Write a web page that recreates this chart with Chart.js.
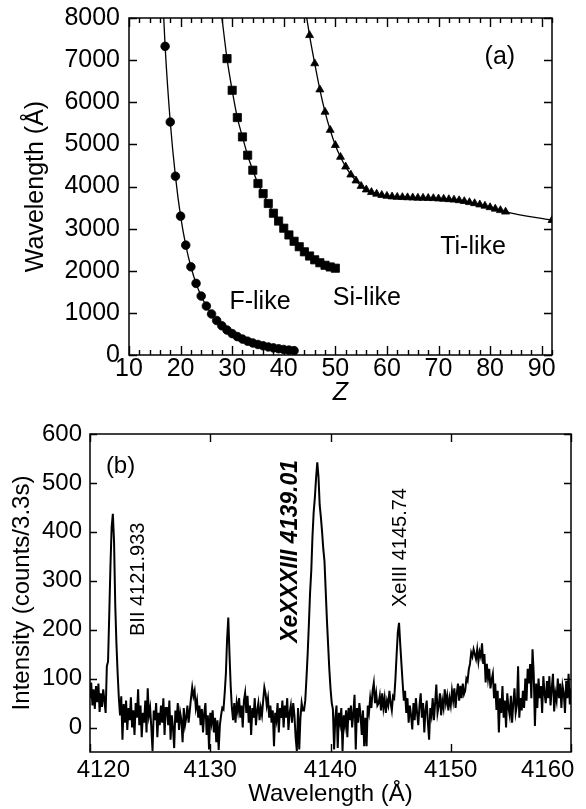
<!DOCTYPE html>
<html>
<head>
<meta charset="utf-8">
<script src="https://cdn.jsdelivr.net/npm/chart.js@4/dist/chart.umd.min.js"></script>
<style>
  html, body { margin: 0; padding: 0; background: #fff; }
  #wrap { position: relative; width: 586px; height: 809px; }
  #panelA { position: absolute; left: 0; top: 0; }
  #panelB { position: absolute; left: 0; top: 410px; }
</style>
</head>
<body>
<div id="wrap">
  <canvas id="panelA" width="586" height="410"></canvas>
  <canvas id="panelB" width="586" height="399"></canvas>
</div>
<script>
// ---------- (a) M1 line wavelengths along three isoelectronic sequences ----------
// The first entry of each sequence continues the curve above the plotted range (no marker).
const fLikeZ  = [16, 17, 18, 19, 20, 21, 22, 23, 24, 25, 26, 27, 28, 29, 30, 31, 32, 33, 34, 35, 36, 37, 38, 39, 40, 41, 42];
const fLikeWl = [9913, 7327, 5532, 4245, 3296, 2608, 2094, 1700, 1399, 1162, 975, 819, 694, 592, 508, 437, 378, 328, 285, 249, 218, 191, 168, 148, 131, 116, 103];

const siLikeZ  = [28, 29, 30, 31, 32, 33, 34, 35, 36, 37, 38, 39, 40, 41, 42, 43, 44, 45, 46, 47, 48, 49, 50];
const siLikeWl = [8024, 7036, 6284, 5637, 5177, 4743, 4387, 4071, 3831, 3597, 3366, 3180, 3010, 2850, 2700, 2570, 2450, 2350, 2260, 2190, 2130, 2090, 2060];

const tiLikeZ  = [44, 45, 46, 47, 48, 49, 50, 51, 52, 53, 54, 55, 56, 57, 58, 59, 60, 61, 62, 63, 64,
                  65, 66, 67, 68, 69, 70, 71, 72, 73, 74, 75, 76, 77, 78, 79, 80, 81, 82, 83, 92];
const tiLikeWl = [8350, 7590, 6920, 6300, 5770, 5340, 4980, 4700, 4470, 4280, 4139, 4010, 3925, 3865, 3825, 3795, 3775, 3760, 3750, 3745, 3740,
                  3735, 3730, 3728, 3725, 3720, 3712, 3705, 3695, 3685, 3670, 3650, 3625, 3600, 3570, 3540, 3505, 3470, 3435, 3400, 3200];

const zTicks  = [10, 20, 30, 40, 50, 60, 70, 80, 90];
const wlTicks = [0, 1000, 2000, 3000, 4000, 5000, 6000, 7000, 8000];

// ---------- (b) spectrum around the Xe XXXIII line ----------
const specStart = 4120.0;   // Å, first channel
const specStep  = 0.1;      // Å per channel
const intensity = [
  60, 92, 45, 78, 38, 85, 52, 90, 32, 70,
  42, 78, 55, 30, 125, 135, 230, 330, 410, 437,
  380, 250, 170, 110, 60, 25, 64, -25, 48, 10,
  55, -5, 40, 15, 62, 0, 35, -15, 50, 20,
  78, 5, 45, -20, 30, 10, 55, -10, 80, 25,
  40, 0, -48, 35, 15, 50, -20, 30, 5, 45,
  10, 60, -15, 40, 40, 5, 55, -25, 25, 0,
  -42, 35, 10, 50, -5, 30, 15, -30, 40, 5,
  20, 45, 10, 35, 60, 82, 64, 75, 40, 55,
  20, 45, 5, 38, -10, 30, 50, -15, 25, -45,
  30, 10, 35, -10, 20, -30, 15, -46, 5, 25,
  40, 37, 70, 110, 180, 225, 150, 85, 40, 15,
  50, 10, 50, 33, 60, 20, 45, 0, 55, 71,
  30, 65, 10, 45, -15, 40, 20, 60, 5, 35,
  50, 15, 40, 25, 55, 82, 70, 45, 60, 20,
  45, 10, 35, -38, 30, 15, 50, -10, 40, 20,
  55, 0, 45, 20, 60, -5, 30, 45, 10, 50,
  25, -20, -48, 40, -45, 20, 50, 35, 35, 55,
  100, 150, 210, 275, 320, 390, 440, 470, 510, 542,
  513, 455, 430, 400, 365, 340, 280, 221, 170, 120,
  80, 51, 37, -45, 20, 45, -42, 30, 10, 40,
  -48, 25, 5, 35, -20, 40, 15, 45, 0, 30,
  67, -45, 40, 10, 50, 25, -15, 35, -38, 20,
  -38, 45, 30, 60, 40, 75, 91, 50, 70, 45,
  50, 65, 35, 70, 40, 60, 30, 55, 45, 75,
  50, 35, 64, 60, 100, 150, 195, 214, 170, 130,
  91, 55, 75, 30, 60, 10, 45, 25, -4, 50,
  15, 60, 30, 5, 45, 70, 20, 50, -10, 35,
  55, 10, -25, 40, 25, 60, 15, 50, 88, 30,
  45, 70, 25, 55, 40, 78, 50, 65, 35, 60,
  45, 75, 55, 80, 40, 70, 90, 55, 85, 60,
  90, 68, 75, 100, 95, 119, 130, 153, 145, 160,
  150, 140, 160, 135, 155, 145, 172, 130, 150, 92,
  130, 100, 120, 80, 98, 110, 60, 90, 36, 75,
  -10, 60, 30, 85, 20, 55, 0, 70, 40, 25,
  65, 10, 50, 80, 30, 45, 125, 20, 60, 35,
  75, 40, 100, 55, 120, 90, 130, 60, 160, 110,
  3, 90, 40, 100, 60, 85, 30, 105, 70, 50,
  95, 60, 105, 45, 80, 110, 33, 70, 55, 100,
  60, 90, 40, 85, 70, 30, 95, 60, 110, 47,
  80
];
const lambdaTicks = [4120, 4130, 4140, 4150, 4160];
const countTicks  = [0, 100, 200, 300, 400, 500, 600];

// ---------- shared helpers ----------
const FONT = 'Liberation Sans, Arial, Helvetica, sans-serif';

function pairs(xs, ys) { return xs.map((x, i) => ({ x, y: ys[i] })); }

function fixedSize(size) {
  return scale => {
    if (scale.isHorizontal()) scale.height = size; else scale.width = size;
    scale.paddingLeft = scale.paddingRight = scale.paddingTop = scale.paddingBottom = 0;
  };
}
function useTicks(values) {
  return scale => { scale.ticks = values.map(v => ({ value: v })); };
}

// box frame with inward ticks on all four sides
function frameWithTicks(cfg) {
  return {
    id: 'frameTicks',
    afterDraw(chart) {
      const { ctx, chartArea: a } = chart;
      const xs = chart.scales.x, ys = chart.scales.y;
      ctx.save();
      ctx.strokeStyle = '#000';
      ctx.lineWidth = cfg.tickWidth;
      ctx.beginPath();
      const major = cfg.xMajor;
      if (cfg.xMinorStep) {
        for (let v = cfg.xFrom; v <= cfg.xTo + 1e-9; v += cfg.xMinorStep) {
          if (major.some(m => Math.abs(m - v) < 1e-6)) continue;
          const px = Math.round(xs.getPixelForValue(v)) + 0.5;
          ctx.moveTo(px, a.bottom); ctx.lineTo(px, a.bottom - cfg.xMinorLen);
          ctx.moveTo(px, a.top);    ctx.lineTo(px, a.top + cfg.xMinorLen);
        }
      }
      for (const v of major) {
        const px = Math.round(xs.getPixelForValue(v)) + 0.5;
        ctx.moveTo(px, a.bottom); ctx.lineTo(px, a.bottom - cfg.xMajorLen);
        ctx.moveTo(px, a.top);    ctx.lineTo(px, a.top + cfg.xMajorLen);
      }
      for (const v of cfg.yMajor) {
        const py = Math.round(ys.getPixelForValue(v)) + 0.5;
        ctx.moveTo(a.left, py);  ctx.lineTo(a.left + cfg.yLen, py);
        ctx.moveTo(a.right, py); ctx.lineTo(a.right - cfg.yLen, py);
      }
      ctx.stroke();
      ctx.lineWidth = cfg.frameWidth;
      ctx.strokeRect(a.left, a.top, a.right - a.left, a.bottom - a.top);
      ctx.restore();
    }
  };
}

// free text placed in data coordinates
function textNotes(items) {
  return {
    id: 'notes',
    afterDatasetsDraw(chart) {
      const { ctx } = chart;
      const xs = chart.scales.x, ys = chart.scales.y;
      ctx.save();
      ctx.fillStyle = '#000';
      ctx.textAlign = 'center';
      ctx.textBaseline = 'middle';
      for (const n of items) {
        ctx.save();
        ctx.translate(xs.getPixelForValue(n.x), ys.getPixelForValue(n.y));
        if (n.rotate) ctx.rotate(n.rotate);
        ctx.font = n.font;
        ctx.fillText(n.text, 0, 0);
        ctx.restore();
      }
      ctx.restore();
    }
  };
}

Chart.defaults.font.family = FONT;
Chart.defaults.color = '#000';

function seriesStyle(style, radius, n) {
  const r = Array(n).fill(radius); r[0] = 0;
  return {
    borderColor: '#000', borderWidth: 1.3,
    backgroundColor: '#000',
    pointStyle: style, pointRadius: r, pointBorderWidth: 0.8,
    pointBackgroundColor: '#000', pointBorderColor: '#000',
    cubicInterpolationMode: 'monotone', fill: false
  };
}

// ---------- panel (a) ----------
new Chart(document.getElementById('panelA'), {
  type: 'line',
  data: {
    datasets: [
      { label: 'F-like',  data: pairs(fLikeZ, fLikeWl),   ...seriesStyle('circle', 4.3, fLikeZ.length) },
      { label: 'Si-like', data: pairs(siLikeZ, siLikeWl), ...seriesStyle('rect', 5.8, siLikeZ.length) },
      { label: 'Ti-like', data: pairs(tiLikeZ, tiLikeWl), ...seriesStyle('triangle', 4.6, tiLikeZ.length) }
    ]
  },
  options: {
    responsive: false, animation: false, events: [],
    layout: { padding: { top: 18, right: 34, left: 0, bottom: 0 } },
    plugins: { legend: { display: false }, tooltip: { enabled: false } },
    scales: {
      x: {
        type: 'linear', min: 10, max: 92,
        afterBuildTicks: useTicks(zTicks), afterFit: fixedSize(55),
        grid: { display: false, drawTicks: false }, border: { display: false },
        ticks: { font: { size: 25, lineHeight: 1 }, padding: 2, maxRotation: 0, callback: v => String(v) },
        title: { display: true, text: 'Z', font: { size: 25, style: 'italic', lineHeight: 1.2 }, padding: { top: 0, bottom: 2 } }
      },
      y: {
        type: 'linear', min: 0, max: 8000,
        afterBuildTicks: useTicks(wlTicks), afterFit: fixedSize(129),
        grid: { display: false, drawTicks: false }, border: { display: false },
        ticks: { font: { size: 25, lineHeight: 1 }, padding: 9, callback: v => String(v) },
        title: { display: true, text: 'Wavelength (Å)', font: { size: 25, lineHeight: 1.2 }, padding: { top: 21, bottom: 0 } }
      }
    }
  },
  plugins: [
    frameWithTicks({ frameWidth: 1.5, tickWidth: 1.4, xMajor: zTicks, yMajor: wlTicks,
                     xFrom: 10, xTo: 92, xMinorStep: 2, xMinorLen: 5, xMajorLen: 9, yLen: 8 }),
    textNotes([
      { text: '(a)',     x: 81.9, y: 7070, font: `25px ${FONT}` },
      { text: 'F-like',  x: 35.4, y: 1260, font: `25px ${FONT}` },
      { text: 'Si-like', x: 56.1, y: 1350, font: `25px ${FONT}` },
      { text: 'Ti-like', x: 76.7, y: 2560, font: `25px ${FONT}` }
    ])
  ]
});

// ---------- panel (b) ----------
const spectrum = intensity.map((v, i) => ({ x: specStart + i * specStep, y: v }));

new Chart(document.getElementById('panelB'), {
  type: 'line',
  data: {
    datasets: [{
      label: 'spectrum', data: spectrum,
      borderColor: '#000', borderWidth: 2, pointRadius: 0, tension: 0, fill: false
    }]
  },
  options: {
    responsive: false, animation: false, events: [],
    layout: { padding: { top: 24, right: 15, left: 0, bottom: 0 } },
    plugins: { legend: { display: false }, tooltip: { enabled: false } },
    scales: {
      x: {
        type: 'linear', min: 4120, max: 4160,
        afterBuildTicks: useTicks(lambdaTicks), afterFit: fixedSize(57),
        grid: { display: false, drawTicks: false }, border: { display: false },
        ticks: {
          font: { size: 24, lineHeight: 1 }, padding: 6, maxRotation: 0,
          // the end labels are nudged inward so they stay inside the figure
          callback: v => v === 4120 ? '    4120' : v === 4160 ? '4160       ' : String(v)
        },
        title: { display: true, text: 'Wavelength (Å)', font: { size: 24, lineHeight: 1.2 }, padding: { top: 0, bottom: 0 } }
      },
      y: {
        type: 'linear', min: -50, max: 600,
        afterBuildTicks: useTicks(countTicks), afterFit: fixedSize(90),
        grid: { display: false, drawTicks: false }, border: { display: false },
        ticks: { font: { size: 24, lineHeight: 1 }, padding: 8, callback: v => String(v) },
        title: { display: true, text: 'Intensity (counts/3.3s)', font: { size: 24, lineHeight: 1.2 }, padding: { top: 8, bottom: 0 } }
      }
    }
  },
  plugins: [
    frameWithTicks({ frameWidth: 1.5, tickWidth: 1.4, xMajor: lambdaTicks, yMajor: countTicks,
                     xFrom: 4120, xTo: 4160, xMinorStep: 0, xMajorLen: 8, yLen: 7 }),
    textNotes([
      { text: '(b)', x: 4122.54, y: 534, font: `24px ${FONT}` },
      { text: 'BII 4121.933', x: 4124.07, y: 303, font: `20px ${FONT}`, rotate: -Math.PI / 2 },
      { text: 'XeXXXIII 4139.01', x: 4136.72, y: 360, font: `italic bold 23px ${FONT}`, rotate: -Math.PI / 2 },
      { text: 'XeIII 4145.74', x: 4145.78, y: 368, font: `20px ${FONT}`, rotate: -Math.PI / 2 }
    ])
  ]
});
</script>
</body>
</html>
